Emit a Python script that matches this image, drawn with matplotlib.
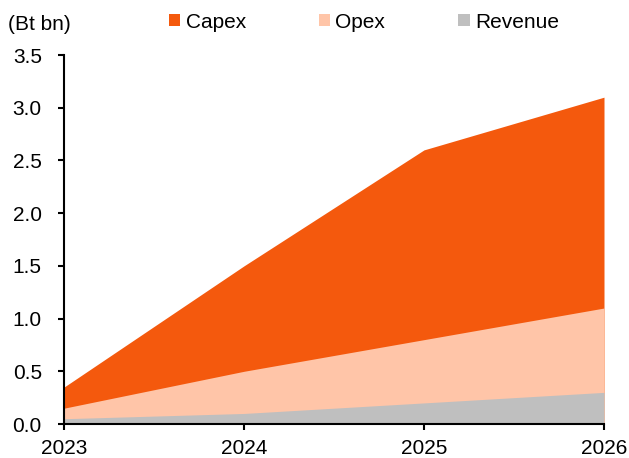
import matplotlib
matplotlib.use("Agg")
import matplotlib.pyplot as plt
from matplotlib.patches import Patch

plt.rcParams['font.family'] = ['Liberation Sans', 'DejaVu Sans']

years = [2023, 2024, 2025, 2026]
capex = [0.35, 1.5, 2.6, 3.1]
opex = [0.15, 0.5, 0.8, 1.1]
revenue = [0.05, 0.1, 0.2, 0.3]
series_names = ["Capex", "Opex", "Revenue"]
colors = ["#F4590D", "#FFC5A8", "#BFBFBF"]
yticks = [0, 0.5, 1.0, 1.5, 2.0, 2.5, 3.0, 3.5]

FS = 15

fig = plt.figure(figsize=(6.29, 4.58), dpi=100)
ax = fig.add_axes([64/629, 1 - 424/458, (604-64)/629, (424-55)/458])

for vals, c in zip([capex, opex, revenue], colors):
    ax.fill_between(years, 0, vals, color=c, linewidth=0)

ax.set_xlim(2023, 2026)
ax.set_ylim(0, 3.5)
ax.set_xticks(years)
ax.set_xticklabels([str(y) for y in years])
ax.set_yticks(yticks)
ax.set_yticklabels([f"{v:.1f}" for v in yticks])
for s in ['top', 'right']:
    ax.spines[s].set_visible(False)
for s in ['left', 'bottom']:
    ax.spines[s].set_linewidth(1.5)
    ax.spines[s].set_color('black')
    ax.spines[s].set_zorder(5)
ax.tick_params(axis='both', labelsize=FS, width=1.5, length=4, color='black', direction='out')
ax.tick_params(axis='x', pad=6.5)
ax.tick_params(axis='y', pad=12)

fig.text(8/629, 1 - 24/458, "(Bt bn)", fontsize=FS, va='center', ha='left')

handles = [Patch(facecolor=c, edgecolor='none') for c in colors]
leg = fig.legend(handles, series_names, loc='center left', bbox_to_anchor=(169/629, 1 - 22/458),
                 ncol=3, frameon=False, fontsize=FS, handlelength=0.55, handleheight=0.55,
                 handletextpad=0.25, columnspacing=3.5, borderpad=0, borderaxespad=0)

fig.savefig("out.png", dpi=100)
